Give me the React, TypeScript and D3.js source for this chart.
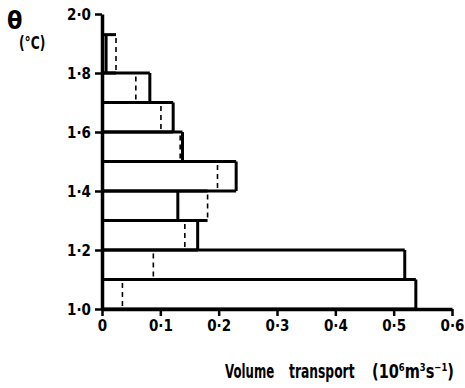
import * as d3 from "d3";
import { useEffect, useRef } from "react";

// temperature classes (lower / upper edge, deg C)
const thetaLow = [1.0, 1.1, 1.2, 1.3, 1.4, 1.5, 1.6, 1.7, 1.8];
const thetaHigh = [1.1, 1.2, 1.3, 1.4, 1.5, 1.6, 1.7, 1.8, 1.93];
// volume transport, 10^6 m3/s
const solidTransport = [0.538, 0.519, 0.164, 0.13, 0.23, 0.138, 0.122, 0.082, 0.007];
const dashedTransport = [0.035, 0.088, 0.142, 0.181, 0.198, 0.134, 0.101, 0.058, 0.024];

const xTicks = [0, 0.1, 0.2, 0.3, 0.4, 0.5, 0.6];
const yTicks = [1.0, 1.2, 1.4, 1.6, 1.8, 2.0];

const W = 465;
const H = 388;
const FONT = "'DejaVu Sans Condensed', 'DejaVu Sans', sans-serif";

const fmt = (v: number) => (v === 0 ? "0" : d3.format(".1f")(v).replace(".", "\u00b7"));

export default function App() {
  const svgRef = useRef<SVGSVGElement>(null);

  const x = d3.scaleLinear().domain([0, 0.6]).range([102, 452]);
  const y = d3.scaleLinear().domain([1.0, 2.0]).range([309, 14]);

  useEffect(() => {
    const svg = d3.select(svgRef.current);

    const xAxis = d3
      .axisBottom(x)
      .tickValues(xTicks)
      .tickSize(7)
      .tickSizeOuter(0)
      .tickPadding(4)
      .tickFormat((d) => fmt(+d));
    const gx = svg.select<SVGGElement>(".x-axis").attr("transform", `translate(0,${y(1.0)})`).call(xAxis);

    const yAxis = d3
      .axisLeft(y)
      .tickValues(yTicks)
      .tickSize(7)
      .tickSizeOuter(0)
      .tickPadding(4)
      .tickFormat((d) => fmt(+d));
    const gy = svg.select<SVGGElement>(".y-axis").attr("transform", `translate(${x(0)},0)`).call(yAxis);

    [gx, gy].forEach((g) => {
      g.select(".domain").attr("stroke", "#000").attr("stroke-width", 3.5);
      g.selectAll(".tick line").attr("stroke", "#000").attr("stroke-width", 2.5);
      g.selectAll(".tick text")
        .attr("fill", "#000")
        .style("font-family", FONT)
        .style("font-weight", "bold")
        .style("font-size", "15px");
    });
    gy.selectAll(".tick text").attr("dy", "0.36em");
  }, []);

  const idx = d3.range(thetaLow.length);

  return (
    <svg ref={svgRef} width={W} height={H} style={{ display: "block", position: "absolute", left: 0, top: 0 }}>
      <rect width={W} height={H} fill="#fff" />
      <g className="bars">
        {idx.map((i) => {
          const y0 = y(thetaLow[i]);
          const y1 = y(thetaHigh[i]);
          const xs = x(solidTransport[i]);
          const xd = x(dashedTransport[i]);
          const xm = Math.max(xs, xd);
          return (
            <g key={i}>
              <line x1={x(0)} x2={xm} y1={y1} y2={y1} stroke="#000" strokeWidth={3} />
              <line x1={x(0)} x2={xm} y1={y0} y2={y0} stroke="#000" strokeWidth={3} />
              <line x1={xs} x2={xs} y1={y0} y2={y1} stroke="#000" strokeWidth={3} />
              <line
                x1={xd}
                x2={xd}
                y1={y0 - 3}
                y2={y1 + 3}
                stroke="#000"
                strokeWidth={1.6}
                strokeDasharray="5,4"
              />
            </g>
          );
        })}
      </g>
      <g className="x-axis" />
      <g className="y-axis" />
      <text x={7} y={29} fontFamily={FONT} fontWeight="bold" fontSize={25}>
        {"\u03b8"}
      </text>
      <g transform="translate(19,49) scale(0.8,1)">
        <text x={0} y={0} fontFamily={FONT} fontWeight="bold" fontSize={17}>
          (°C)
        </text>
      </g>
      <g fontFamily={FONT} fontWeight="bold" fontSize={19}>
        <g transform="translate(225,378) scale(0.69,1)">
          <text x={0} y={0}>Volume</text>
        </g>
        <g transform="translate(289,378) scale(0.72,1)">
          <text x={0} y={0}>transport</text>
        </g>
        <g transform="translate(372,378) scale(0.85,1)">
          <text x={0} y={0}>
            (10
            <tspan dy={-7} fontSize={11}>6</tspan>
            <tspan dy={7}>m</tspan>
            <tspan dy={-7} fontSize={11}>3</tspan>
            <tspan dy={7}>s</tspan>
            <tspan dy={-7} fontSize={11}>{"\u22121"}</tspan>
            <tspan dy={7}>)</tspan>
          </text>
        </g>
      </g>
    </svg>
  );
}
